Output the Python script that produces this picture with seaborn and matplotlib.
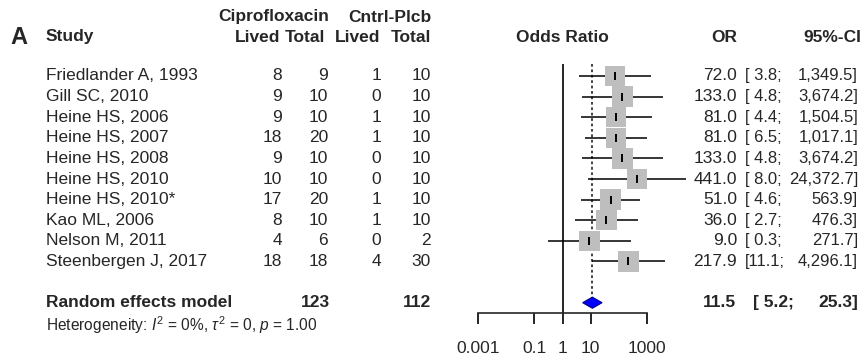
import numpy as np
import pandas as pd
import matplotlib
matplotlib.use("Agg")
import matplotlib.pyplot as plt
import matplotlib.transforms as mtrans
import seaborn as sns

# 1. DATA
studies = ["Friedlander A, 1993", "Gill SC, 2010", "Heine HS, 2006", "Heine HS, 2007",
           "Heine HS, 2008", "Heine HS, 2010", "Heine HS, 2010*", "Kao ML, 2006",
           "Nelson M, 2011", "Steenbergen J, 2017"]
cipro_lived = [8, 9, 9, 18, 9, 10, 17, 8, 4, 18]
cipro_total = [9, 10, 10, 20, 10, 10, 20, 10, 6, 18]
ctrl_lived  = [1, 0, 1, 1, 0, 0, 1, 1, 0, 4]
ctrl_total  = [10, 10, 10, 10, 10, 10, 10, 10, 2, 30]
or_est  = [72.0, 133.0, 81.0, 81.0, 133.0, 441.0, 51.0, 36.0, 9.0, 217.9]
ci_low  = [3.8, 4.8, 4.4, 6.5, 4.8, 8.0, 4.6, 2.7, 0.3, 11.1]
ci_high = [1349.5, 3674.2, 1504.5, 1017.1, 3674.2, 24372.7, 563.9, 476.3, 271.7, 4296.1]

sum_label       = "Random effects model"
sum_cipro_total = 123
sum_ctrl_total  = 112
sum_or, sum_low, sum_high = 11.5, 5.2, 25.3
het_text   = r"Heterogeneity: $I^2$ = 0%, $\tau^2$ = 0, $p$ = 1.00"
axis_ticks = [0.001, 0.1, 1, 10, 1000]

df = pd.DataFrame({"study": studies, "or": or_est, "lo": ci_low, "hi": ci_high})
df["row"] = np.arange(len(df))
sum_row = len(df) + 1

# 2. STYLE
sns.set_style("white")
plt.rcParams["font.family"] = ["Liberation Sans", "DejaVu Sans"]
plt.rcParams["mathtext.fontset"] = "custom"
plt.rcParams["mathtext.rm"] = "Liberation Sans"
plt.rcParams["mathtext.it"] = "Liberation Sans:italic"
FS = 12.5

W, H = 864, 360
fig = plt.figure(figsize=(W / 100, H / 100), dpi=100)

# forest panel, pixel layout: 1 decade = 28.17 px, OR=1 at x=562.5
L, R, T, B = 470, 700, 63.6, 313
ax = fig.add_axes([L / W, 1 - B / H, (R - L) / W, (B - T) / H])
dec, x1 = 28.17, 562.5
ax.set_xscale("log")
ax.set_xlim(10 ** ((L - x1) / dec), 10 ** ((R - x1) / dec))
ax.set_ylim(sum_row + 0.5, -0.6)

# reference lines
ax.axvline(1, color="black", lw=1.2, zorder=1)
ax.vlines(sum_or, -0.6, sum_row, color="#333333", lw=1.3, linestyles=(0, (1.5, 1.5)), zorder=1)

# CIs, boxes, point ticks
ax.hlines(df["row"], df["lo"], df["hi"], color="black", lw=1.1, zorder=2)
sns.scatterplot(data=df, x="or", y="row", marker="s", s=215, color="#BEBEBE",
                edgecolor="none", linewidth=0, ax=ax, zorder=3, legend=False)
ax.plot(df["or"], df["row"], ls="none", marker="|", ms=6, mew=1.4, color="black", zorder=4)

# summary diamond
ax.fill([sum_low, sum_or, sum_high, sum_or], [sum_row, sum_row - 0.27, sum_row, sum_row + 0.27],
        color="blue", ec="#00008B", lw=0.8, zorder=5)

for s in ["top", "right", "left"]:
    ax.spines[s].set_visible(False)
ax.spines["bottom"].set_bounds(axis_ticks[0], axis_ticks[-1])
ax.spines["bottom"].set_linewidth(1.2)
ax.set_yticks([])
ax.set_xticks(axis_ticks)
ax.set_xticks([], minor=True)
ax.set_xticklabels([f"{t:g}" for t in axis_ticks])
ax.tick_params(axis="x", bottom=True, direction="out", length=8, width=1.2,
               color="black", pad=12, labelsize=FS)
ax.set_xlabel("")
ax.set_ylabel("")
ax.patch.set_alpha(0)

# 3. TEXT COLUMNS
tr = mtrans.blended_transform_factory(fig.transFigure, ax.transData)

def px(x):
    return x / W

def head(x, y, s, ha="left", **kw):
    fig.text(px(x), 1 - y / H, s, ha=ha, va="center", fontsize=FS, fontweight="bold", **kw)

fig.text(px(10), 1 - 37 / H, "A", ha="left", va="center", fontsize=17, fontweight="bold")
head(46, 37, "Study")
head(274, 17, "Ciprofloxacin", ha="center")
head(390, 17, "Cntrl-Plcb", ha="center")
head(280, 37, "Lived", ha="right")
head(325, 37, "Total", ha="right")
head(380, 37, "Lived", ha="right")
head(431, 37, "Total", ha="right")
head(562.5, 37, "Odds Ratio", ha="center")
head(737, 37, "OR", ha="right")
head(861, 37, "95%-CI", ha="right")

def cell(x, row, s, ha="right", fs=FS, **kw):
    ax.text(px(x), row, s, transform=tr, ha=ha, va="center", fontsize=fs, **kw)

def lower_txt(v):
    return "[" + (" " if v < 10 else "") + f"{v:.1f};"

for i in range(len(df)):
    cell(46, i, studies[i], ha="left")
    cell(282, i, str(cipro_lived[i]))
    cell(328, i, str(cipro_total[i]))
    cell(381, i, str(ctrl_lived[i]))
    cell(431, i, str(ctrl_total[i]))
    cell(737, i, f"{or_est[i]:.1f}")
    cell(745, i, lower_txt(ci_low[i]), ha="left", fs=12)
    cell(858, i, f"{ci_high[i]:,.1f}]", fs=12)

bold = dict(fontweight="bold")
cell(46, sum_row, sum_label, ha="left", **bold)
cell(330, sum_row, str(sum_cipro_total), **bold)
cell(431, sum_row, str(sum_ctrl_total), **bold)
cell(736, sum_row, f"{sum_or:.1f}", **bold)
cell(753, sum_row, lower_txt(sum_low), ha="left", **bold)
cell(858, sum_row, f"{sum_high:.1f}]", **bold)
ax.text(px(46), sum_row + 1.07, het_text, transform=tr, ha="left", va="center", fontsize=11.2)

fig.savefig("out.png", dpi=100)
